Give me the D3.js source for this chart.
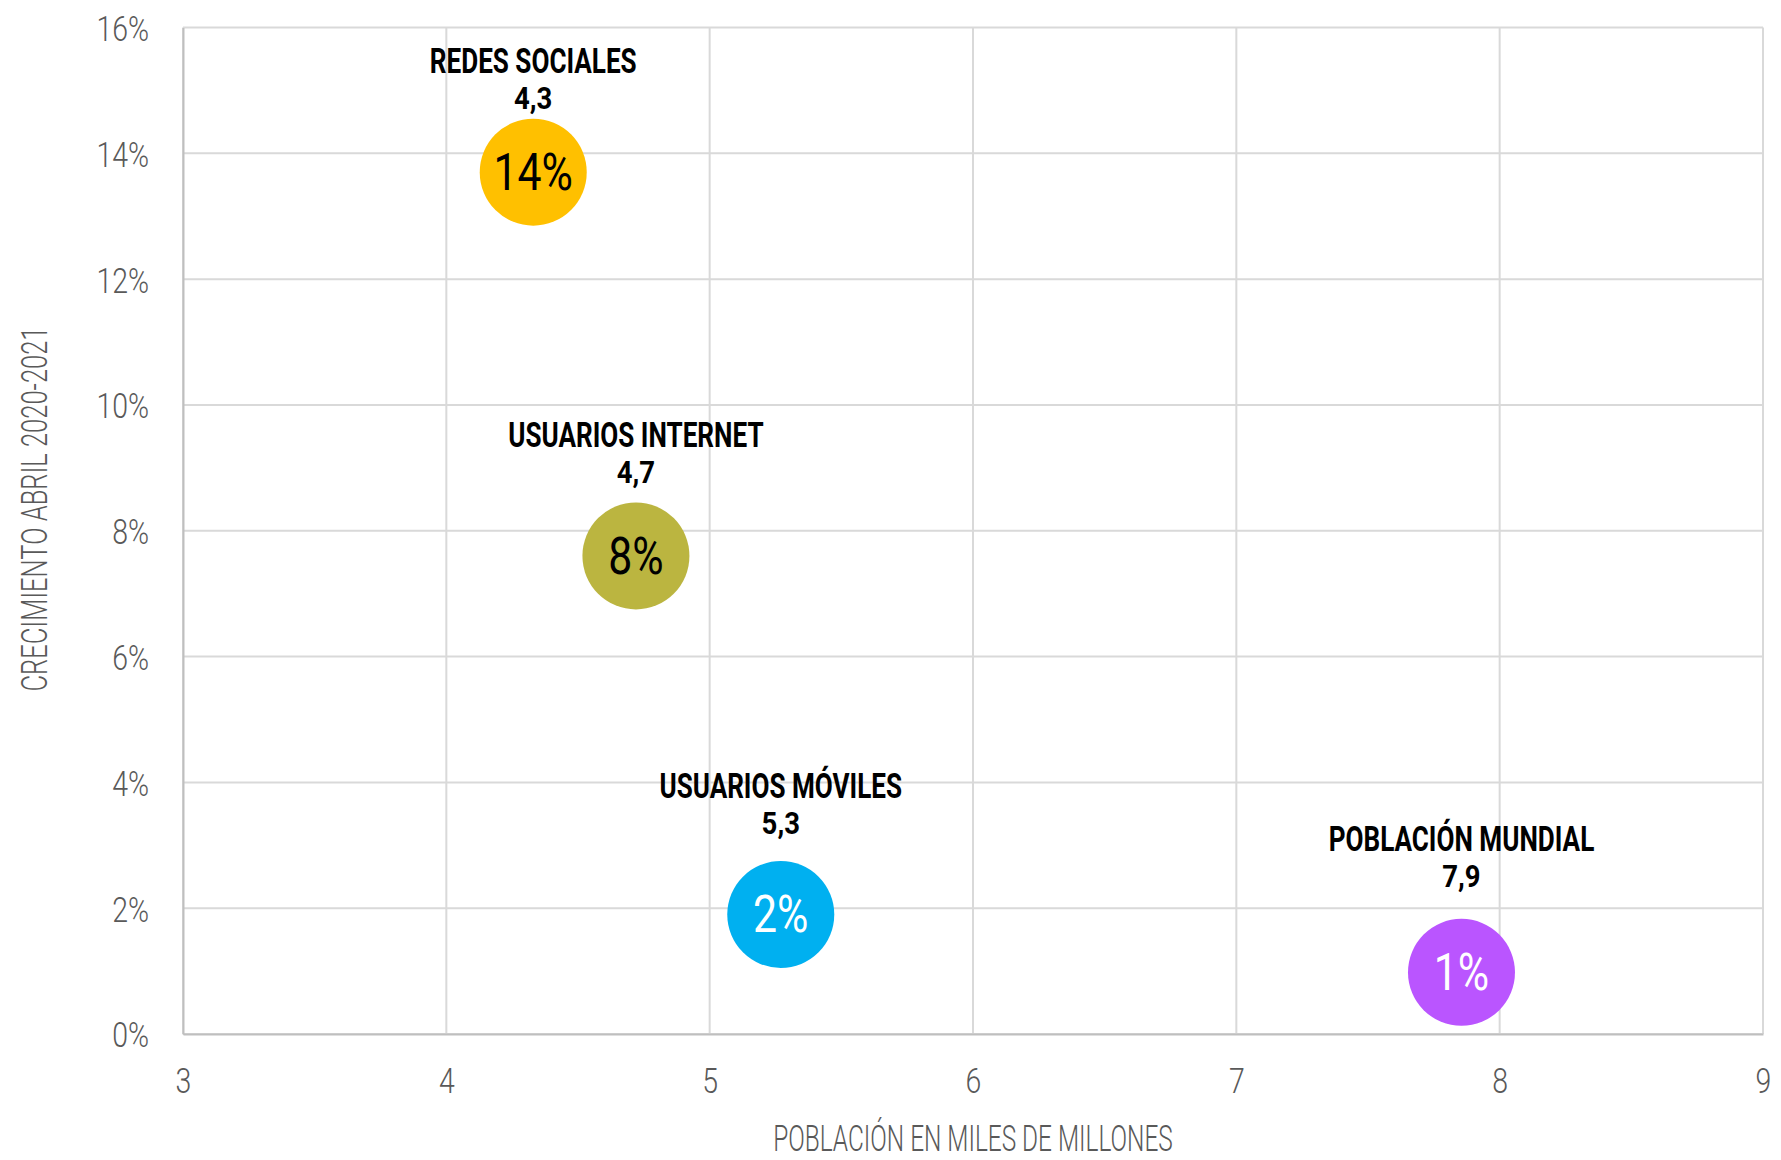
<!DOCTYPE html>
<html>
<head>
<meta charset="utf-8">
<script src="https://cdn.jsdelivr.net/npm/d3@7"></script>
<style>
  body { margin: 0; background: #fff; }
  svg { display: block; }
</style>
</head>
<body>
<svg id="chart" width="1781" height="1160"></svg>
<script>
// data
const names = ["REDES SOCIALES", "USUARIOS INTERNET", "USUARIOS MÓVILES", "POBLACIÓN MUNDIAL"];
const population = [4.33, 4.72, 5.27, 7.855];    // miles de millones
const growth = [0.137, 0.076, 0.019, 0.0098];    // crecimiento abril 2020-2021
const popLabels = ["4,3", "4,7", "5,3", "7,9"];
const colors = ["#FFC000", "#BBB540", "#00B0F0", "#BA55FF"];
const textColors = ["#000", "#000", "#fff", "#fff"];
const xTicks = [3, 4, 5, 6, 7, 8, 9];
const yTicks = [0, 0.02, 0.04, 0.06, 0.08, 0.10, 0.12, 0.14, 0.16];

const W = 1781, H = 1160;
const margin = {top: 27.5, right: 18, bottom: 126, left: 183};
const R = 53.5;
// how far the name label baseline sits above each bubble centre
const labelLift = [99, 109, 116, 121];

const svg = d3.select("#chart");

const x = d3.scaleLinear().domain([3, 9]).range([margin.left, W - margin.right]);
const y = d3.scaleLinear().domain([0, 0.16]).range([H - margin.bottom, margin.top]);

// fake condensed font: Roboto squeezed horizontally
function condensed(sel, f) {
	sel.each(function() {
		const t = d3.select(this);
		const tx = +t.attr("x") || 0;
		t.attr("x", tx / f).attr("transform", `scale(${f},1)`);
	});
}

const pct = d3.format(".0%");

// grid
svg.append("g")
	.selectAll("line")
	.data(xTicks)
	.join("line")
	.attr("x1", d => x(d)).attr("x2", d => x(d))
	.attr("y1", y(0.16)).attr("y2", y(0))
	.attr("stroke", "#d9d9d9").attr("stroke-width", 2);

svg.append("g")
	.selectAll("line")
	.data(yTicks)
	.join("line")
	.attr("x1", x(3)).attr("x2", x(9))
	.attr("y1", d => y(d)).attr("y2", d => y(d))
	.attr("stroke", "#d9d9d9").attr("stroke-width", 2);

// axes
const xAxis = svg.append("g")
	.attr("transform", `translate(0,${y(0)})`)
	.call(d3.axisBottom(x).tickValues(xTicks).tickSize(0).tickPadding(0).tickFormat(d3.format("d")));
const yAxis = svg.append("g")
	.attr("transform", `translate(${x(3)},0)`)
	.call(d3.axisLeft(y).tickValues(yTicks).tickSize(0).tickPadding(0).tickFormat(pct));

[xAxis, yAxis].forEach(a => {
	a.select(".domain").attr("stroke", "#bfbfbf").attr("stroke-width", 2);
	a.selectAll("text")
		.attr("font-family", "Roboto").attr("font-weight", 300)
		.attr("font-size", 36).attr("fill", "#595959");
});
xAxis.selectAll("text").attr("dy", null).attr("y", 59);
yAxis.selectAll("text").attr("dy", "0.36em").attr("x", -34);
condensed(xAxis.selectAll("text"), 0.79);
condensed(yAxis.selectAll("text"), 0.79);

// axis titles
const xTitle = svg.append("text")
	.attr("x", (x(3) + x(9)) / 2).attr("y", 1151)
	.attr("text-anchor", "middle")
	.attr("font-family", "Roboto").attr("font-weight", 300)
	.attr("font-size", 37).attr("fill", "#595959")
	.text("POBLACIÓN EN MILES DE MILLONES");
condensed(xTitle, 0.66);

svg.append("g")
	.attr("transform", "translate(47,509) rotate(-90)")
	.append("text")
	.attr("text-anchor", "middle")
	.attr("font-family", "Roboto").attr("font-weight", 300)
	.attr("font-size", 37).attr("fill", "#595959")
	.text("CRECIMIENTO ABRIL 2020-2021")
	.call(condensed, 0.69);

// bubbles
const pts = names.map((n, i) => ({name: n, pop: population[i], g: growth[i], i}));

const node = svg.append("g")
	.selectAll("g")
	.data(pts)
	.join("g")
	.attr("transform", d => `translate(${x(d.pop)},${y(d.g)})`);

node.append("circle")
	.attr("r", R)
	.attr("fill", d => colors[d.i]);

node.append("text")
	.attr("text-anchor", "middle")
	.attr("y", 18)
	.attr("font-family", "Roboto").attr("font-weight", 400)
	.attr("font-size", 51)
	.attr("fill", d => textColors[d.i])
	.text(d => pct(d.g))
	.call(condensed, 0.84);

node.append("text")
	.attr("text-anchor", "middle")
	.attr("y", d => -labelLift[d.i])
	.attr("font-family", "Roboto").attr("font-weight", 700)
	.attr("font-size", 35.5).attr("fill", "#000")
	.text(d => d.name)
	.call(condensed, 0.735);

node.append("text")
	.attr("text-anchor", "middle")
	.attr("y", d => -labelLift[d.i] + 35.6)
	.attr("font-family", "Roboto").attr("font-weight", 700)
	.attr("font-size", 32).attr("fill", "#000")
	.text(d => popLabels[d.i])
	.call(condensed, 0.86);
</script>
</body>
</html>
